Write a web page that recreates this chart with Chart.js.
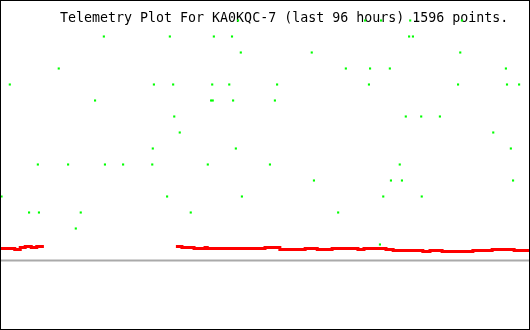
<!DOCTYPE html>
<html>
<head>
<meta charset="utf-8">
<script src="https://cdn.jsdelivr.net/npm/chart.js@4"></script>
<style>
  body { margin: 0; background: #fff; }
  .chart { width: 530px; height: 330px; box-sizing: border-box; border: 1px solid #000; }
  canvas { display: block; }
</style>
</head>
<body>
<div class="chart"><canvas id="telemetry" width="528" height="328"></canvas></div>
<script>
const titleText = "Telemetry Plot For KA0KQC-7 (last 96 hours) 1596 points.";

// green channel: hours before now, raw value
const greenHours = [
  -52.9, -29.8, -26.9, -21.6, -12.2,
  -77.3, -65.3, -57.3, -54.0, -21.8, -21.1,
  -52.4, -39.5, -12.5,
  -85.5, -33.3, -28.9, -25.3, -4.2,
  -94.4, -68.2, -64.7, -57.6, -54.5, -45.8, -29.1, -12.9, -4.0, -1.8,
  -78.9, -57.8, -57.5, -53.8, -46.2,
  -64.5, -22.4, -19.6, -16.2,
  -63.5, -6.5,
  -68.4, -53.3, -3.3,
  -89.3, -83.8, -77.1, -73.8, -68.5, -58.4, -47.1, -23.5,
  -39.1, -25.1, -23.1, -2.9,
  -95.9, -65.8, -52.2, -26.5, -19.5,
  -90.9, -89.1, -81.5, -61.5, -34.7,
  -82.4,
  -27.1,
];
const greenValues = [
  240, 240, 240, 240, 240,
  224, 224, 224, 224, 224, 224,
  208, 208, 208,
  192, 192, 192, 192, 192,
  176, 176, 176, 176, 176, 176, 176, 176, 176, 176,
  160, 160, 160, 160, 160,
  144, 144, 144, 144,
  128, 128,
  112, 112, 112,
  96, 96, 96, 96, 96, 96, 96, 96,
  80, 80, 80, 80,
  64, 64, 64, 64, 64,
  48, 48, 48, 48, 48,
  32,
  16,
];

// red channel (step line, gap with no data)
const redHours = [
  -96, -93.5, -92.5, -91.6, -90.5, -89.5, -88.2, -76,
  -64.2, -63.1, -61.8, -60.9, -58.9, -58.5, -48.0, -45.3, -40.7, -38.5,
  -35.8, -31.1, -30.0, -26.0, -24.7, -19.3, -18.0, -15.8, -10.2, -6.7, -2.7, 0,
];
const redValues = [
  12, 11, 13, 14, 13, 14, 14, null,
  14, 13, 13, 12, 13, 12, 13, 11, 12, 11,
  12, 11, 12, 11, 10, 9, 10, 9, 10, 11, 10, 10,
];

const baseHours = [-96, 0];
const baseValues = [0, 0];

const toPoints = (xs, ys) => xs.map((x, i) => ({ x: x, y: ys[i] }));

const titlePlugin = {
  id: "plotTitle",
  beforeDatasetsDraw(chart) {
    const ctx = chart.ctx;
    ctx.save();
    ctx.font = '13.3px "DejaVu Sans Mono", monospace';
    ctx.fillStyle = "#000";
    ctx.textBaseline = "alphabetic";
    ctx.textAlign = "left";
    ctx.fillText(titleText, 59, 21);
    ctx.restore();
  },
};

const ctx = document.getElementById("telemetry").getContext("2d");

const chart = new Chart(ctx, {
  type: "scatter",
  data: {
    datasets: [
      {
        data: toPoints(greenHours, greenValues),
        showLine: false,
        pointStyle: "rect",
        pointRadius: 1.5,
        pointBorderWidth: 0,
        backgroundColor: "#00ff00",
        order: 0,
      },
      {
        data: toPoints(redHours, redValues),
        showLine: true,
        stepped: true,
        spanGaps: false,
        borderColor: "#ff0000",
        borderWidth: 3,
        pointRadius: 0,
        order: 1,
      },
      {
        data: toPoints(baseHours, baseValues),
        showLine: true,
        borderColor: "#aaaaaa",
        borderWidth: 2,
        pointRadius: 0,
        order: 2,
      },
    ],
  },
  options: {
    responsive: false,
    animation: false,
    layout: { padding: 0, autoPadding: false },
    plugins: {
      legend: { display: false },
      tooltip: { enabled: false },
    },
    scales: {
      x: { type: "linear", min: -96, max: 0, display: false },
      y: { type: "linear", min: -68.5, max: 259.5, display: false },
    },
  },
  plugins: [titlePlugin],
});
</script>
</body>
</html>
